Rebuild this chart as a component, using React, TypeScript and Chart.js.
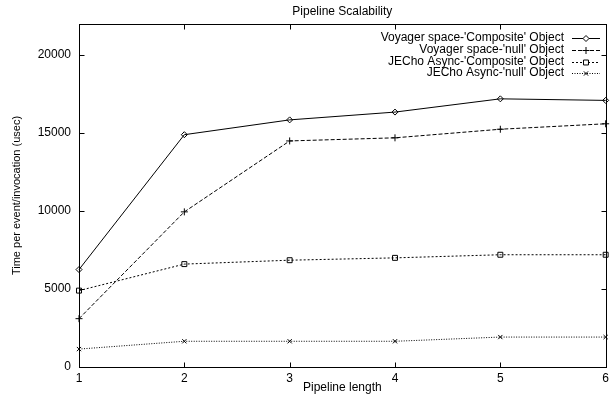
import React, { useEffect, useRef } from "react";
import { Chart, registerables } from "chart.js";
import { drawPoint } from "chart.js/helpers";

Chart.register(...registerables);

const pipelineLengths = [1, 2, 3, 4, 5, 6];
const voyagerComposite = [6250, 14900, 15850, 16350, 17200, 17100];
const voyagerNull = [3100, 9950, 14500, 14700, 15250, 15600];
const jechoComposite = [4900, 6600, 6850, 7000, 7200, 7200];
const jechoNull = [1150, 1650, 1650, 1650, 1920, 1920];
const yTickValues = [0, 5000, 10000, 15000, 20000];
const xTickValues = [1, 2, 3, 4, 5, 6];
const seriesLabels = [
  "Voyager space-'Composite' Object",
  "Voyager space-'null' Object",
  "JECho Async-'Composite' Object",
  "JECho Async-'null' Object",
];
const chartTitle = "Pipeline Scalability";
const xTitle = "Pipeline length";
const yTitle = "Time per event/invocation (usec)";

const FONT = "Liberation Sans, Arial, Helvetica, sans-serif";

const framePlugin = {
  id: "frame",
  afterDraw(chart: any) {
    const { ctx, chartArea, scales } = chart;
    const { left, right, top, bottom } = chartArea;
    const x = scales.x;
    const y = scales.y;
    ctx.save();
    ctx.strokeStyle = "#000";
    ctx.lineWidth = 1;
    ctx.setLineDash([]);
    const L = Math.round(left) + 0.5;
    const R = Math.round(right) + 0.5;
    const T = Math.round(top) + 0.5;
    const B = Math.round(bottom) + 0.5;
    ctx.strokeRect(L, T, R - L, B - T);
    const tl = 5;
    ctx.beginPath();
    xTickValues.forEach((v) => {
      const px = Math.round(x.getPixelForValue(v)) + 0.5;
      ctx.moveTo(px, B);
      ctx.lineTo(px, B - tl);
      ctx.moveTo(px, T);
      ctx.lineTo(px, T + tl);
    });
    yTickValues.forEach((v) => {
      const py = Math.round(y.getPixelForValue(v)) + 0.5;
      ctx.moveTo(L, py);
      ctx.lineTo(L + tl, py);
      ctx.moveTo(R, py);
      ctx.lineTo(R - tl, py);
    });
    ctx.stroke();

    // titles
    ctx.fillStyle = "#000";
    ctx.font = `12px ${FONT}`;
    ctx.textAlign = "center";
    ctx.textBaseline = "middle";
    ctx.fillText(chartTitle, (left + right) / 2, 12);
    ctx.fillText(xTitle, (left + right) / 2, 388);
    ctx.font = `11px ${FONT}`;
    ctx.save();
    ctx.translate(17, (top + bottom) / 2);
    ctx.rotate(-Math.PI / 2);
    ctx.fillText(yTitle, 0, 0);
    ctx.restore();

    // legend
    const rows = [38, 50, 61.5, 73];
    ctx.font = `12px ${FONT}`;
    ctx.textAlign = "right";
    chart.data.datasets.forEach((ds: any, i: number) => {
      const ry = rows[i];
      ctx.fillStyle = "#000";
      ctx.fillText(ds.label, 564, ry);
      ctx.save();
      ctx.strokeStyle = "#000";
      ctx.lineWidth = 1;
      ctx.setLineDash(ds.borderDash || []);
      ctx.beginPath();
      ctx.moveTo(572, Math.round(ry) + 0.5);
      ctx.lineTo(600, Math.round(ry) + 0.5);
      ctx.stroke();
      ctx.setLineDash([]);
      ctx.fillStyle = "#fff";
      drawPoint(ctx, {
        pointStyle: ds.pointStyle,
        radius: ds.pointRadius,
        borderWidth: 1,
        rotation: 0,
      } as any, 586, Math.round(ry) + 0.5);
      ctx.restore();
    });
    ctx.restore();
  },
};

function makeDataset(label: string, data: number[], dash: number[], style: string, radius: number) {
  return {
    label,
    data: pipelineLengths.map((p, i) => ({ x: p, y: data[i] })),
    borderColor: "#000",
    backgroundColor: "#fff",
    borderWidth: 1,
    borderDash: dash,
    pointStyle: style,
    pointRadius: radius,
    pointBorderColor: "#000",
    pointBackgroundColor: "rgba(255,255,255,0)",
    pointBorderWidth: 1,
    tension: 0,
    clip: false,
  };
}

export default function App() {
  const ref = useRef<HTMLCanvasElement>(null);
  useEffect(() => {
    if (!ref.current) return;
    const chart = new Chart(ref.current, {
      type: "line",
      data: {
        datasets: [
          makeDataset(seriesLabels[0], voyagerComposite, [], "rectRot", 3),
          makeDataset(seriesLabels[1], voyagerNull, [4, 2], "cross", 3.5),
          makeDataset(seriesLabels[2], jechoComposite, [2, 2], "rect", 3.5),
          makeDataset(seriesLabels[3], jechoNull, [1, 1.5], "crossRot", 3),
        ] as any,
      },
      options: {
        responsive: false,
        animation: false,
        devicePixelRatio: 1,
        layout: { padding: { top: 24, right: 6, left: 0, bottom: 0 } },
        plugins: {
          legend: { display: false },
          title: { display: false },
          tooltip: { enabled: false },
        },
        scales: {
          x: {
            type: "linear",
            min: 1,
            max: 6,
            grid: { display: false, drawTicks: false },
            border: { display: false },
            afterFit: (s: any) => {
              s.height = 28;
            },
            afterBuildTicks: (s: any) => {
              s.ticks = xTickValues.map((v) => ({ value: v }));
            },
            ticks: {
              color: "#000",
              font: { family: FONT, size: 12 },
              padding: 4,
              maxRotation: 0,
              callback: (v: any) => String(v),
            },
          },
          y: {
            type: "linear",
            min: 0,
            max: 22000,
            grid: { display: false, drawTicks: false },
            border: { display: false },
            afterFit: (s: any) => {
              s.width = 79;
            },
            afterBuildTicks: (s: any) => {
              s.ticks = yTickValues.map((v) => ({ value: v }));
            },
            ticks: {
              color: "#000",
              font: { family: FONT, size: 12 },
              padding: 8,
              callback: (v: any) => String(v),
            },
          },
        },
      },
      plugins: [framePlugin],
    });
    return () => chart.destroy();
  }, []);
  return (
    <div style={{ position: "absolute", left: 0, top: 0, width: 613, height: 395, background: "#fff" }}>
      <canvas ref={ref} width={613} height={395} style={{ width: 613, height: 395 }} />
    </div>
  );
}
